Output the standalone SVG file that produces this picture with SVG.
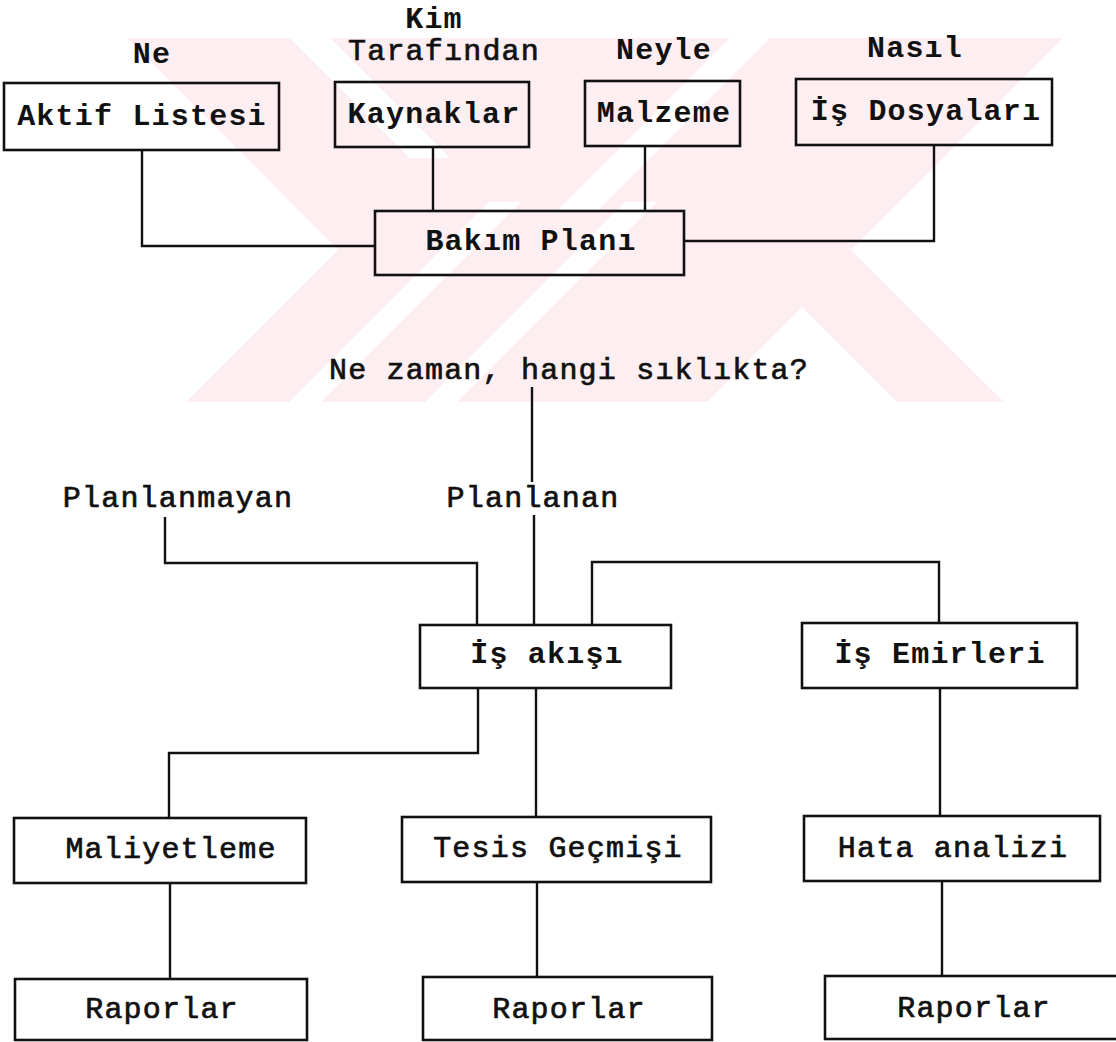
<svg xmlns="http://www.w3.org/2000/svg" width="1116" height="1042" viewBox="0 0 1116 1042">
<defs>
<style>
.box{fill:none;stroke:#111;stroke-width:2.6}
.ln{fill:none;stroke:#111;stroke-width:2.4}
text{font-family:"Liberation Mono","Courier New",monospace;font-size:30px;letter-spacing:1.2px;fill:#111;text-anchor:middle}
.r{font-weight:400;stroke:#111;stroke-width:0.7}
.b{font-weight:700}
.wm{fill:#fdeef1}
.wg{fill:#ffffff}
</style>
<clipPath id="band"><rect x="0" y="38" width="1116" height="364"/></clipPath>
</defs>
<rect width="1116" height="1042" fill="#ffffff"/>
<g id="watermark" clip-path="url(#band)">
<polygon class="wm" points="127,38 1063,38 851,250 1004,402 186,402 338,250"/>
<polygon class="wg" points="289,402 321,402 521,202 489,202"/>
<polygon class="wg" points="425,402 457,402 657,202 625,202"/>
<polygon class="wg" points="730,38 770,38 596,212 556,212"/>
<polygon class="wg" points="290,38 330,38 450,158 410,158"/>
<polygon class="wg" points="802,307 707,402 897,402"/>
</g>
<g id="connectors">
<path class="ln" d="M142,150 V246 H375"/>
<path class="ln" d="M433,147 V211"/>
<path class="ln" d="M645,146 V211"/>
<path class="ln" d="M684,241 H934 V145"/>
<path class="ln" d="M532,387 V482"/>
<path class="ln" d="M165,517 V563 H477 V625"/>
<path class="ln" d="M534,515 V625"/>
<path class="ln" d="M592,625 V562 H939 V623"/>
<path class="ln" d="M478,688 V753 H169 V818"/>
<path class="ln" d="M536,688 V817"/>
<path class="ln" d="M940,688 V816"/>
<path class="ln" d="M170,883 V979"/>
<path class="ln" d="M537,882 V977"/>
<path class="ln" d="M942,881 V976"/>
</g>
<g id="labels">
<text class="b" x="434" y="28">Kim</text>
<text class="r" x="444" y="60">Tarafından</text>
<text class="b" x="152" y="63">Ne</text>
<text class="b" x="664" y="59">Neyle</text>
<text class="b" x="915" y="57">Nasıl</text>
<text class="r" x="569" y="379">Ne zaman, hangi sıklıkta?</text>
<text class="r" x="178" y="507">Planlanmayan</text>
<text class="r" x="533" y="507">Planlanan</text>
</g>
<g id="node-aktif"><rect class="box" x="4" y="83" width="275" height="67"/><text class="b" x="142" y="125">Aktif Listesi</text></g>
<g id="node-kaynaklar"><rect class="box" x="335" y="82" width="194" height="65"/><text class="b" x="434" y="123">Kaynaklar</text></g>
<g id="node-malzeme"><rect class="box" x="585" y="81" width="155" height="65"/><text class="b" x="664" y="122">Malzeme</text></g>
<g id="node-isdosyalari"><rect class="box" x="796" y="79" width="256" height="66"/><text class="b" x="926" y="120">İş Dosyaları</text></g>
<g id="node-bakim"><rect class="box" x="375" y="211" width="309" height="64"/><text class="b" x="531" y="250">Bakım Planı</text></g>
<g id="node-isakisi"><rect class="box" x="420" y="625" width="251" height="63"/><text class="b" x="547" y="663">İş akışı</text></g>
<g id="node-isemirleri"><rect class="box" x="802" y="623" width="275" height="65"/><text class="b" x="940" y="663">İş Emirleri</text></g>
<g id="node-maliyetleme"><rect class="box" x="14" y="818" width="292" height="65"/><text class="r" x="171" y="858">Maliyetleme</text></g>
<g id="node-tesis"><rect class="box" x="402" y="817" width="309" height="65"/><text class="r" x="558" y="857">Tesis Geçmişi</text></g>
<g id="node-hata"><rect class="box" x="804" y="816" width="296" height="65"/><text class="r" x="953" y="857">Hata analizi</text></g>
<g id="node-raporlar1"><rect class="box" x="15" y="979" width="292" height="61"/><text class="r" x="162" y="1018">Raporlar</text></g>
<g id="node-raporlar2"><rect class="box" x="423" y="977" width="289" height="63"/><text class="r" x="569" y="1018">Raporlar</text></g>
<g id="node-raporlar3"><rect class="box" x="825" y="976" width="300" height="63"/><text class="r" x="974" y="1017">Raporlar</text></g>
</svg>
